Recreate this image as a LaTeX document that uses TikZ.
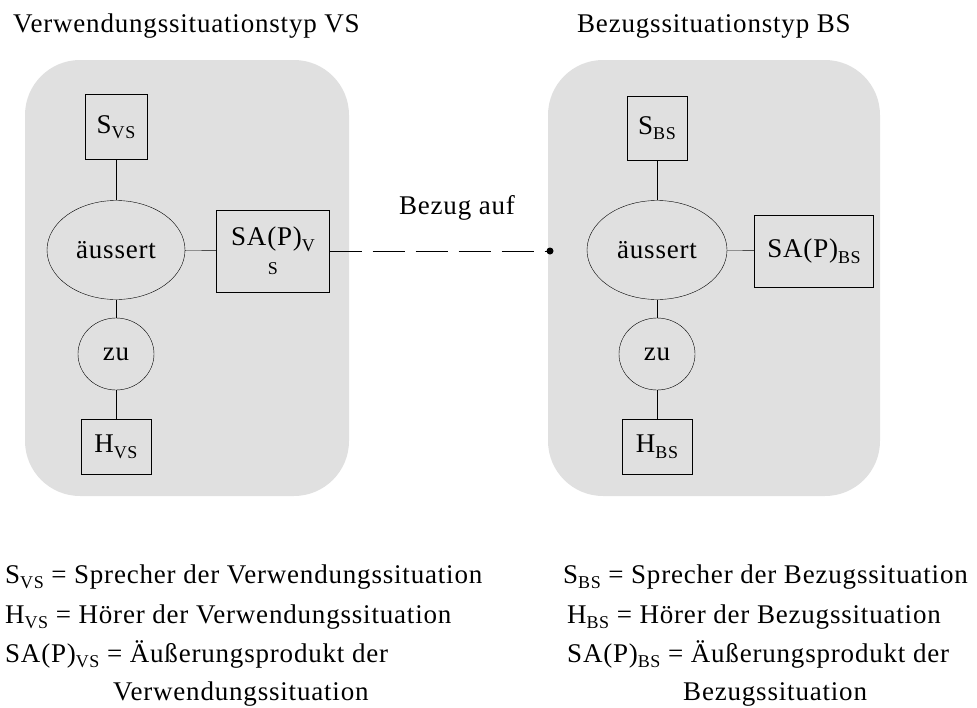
\documentclass[tikz,border=0pt]{standalone}
\usepackage{fontspec}
\setmainfont[LetterSpace=3]{Liberation Serif}
\usetikzlibrary{shapes.geometric}
\definecolor{boxgrey}{RGB}{224,224,224}
\newcommand{\idx}[1]{\raisebox{-0.45ex}{\fontsize{18}{18}\selectfont #1}}
\tikzset{
  sitbox/.style={fill=boxgrey, draw=none, rounded corners=55pt},
  rbox/.style={draw, rectangle, inner sep=0pt, fill=boxgrey},
  ebox/.style={draw, ellipse, inner sep=0pt, fill=boxgrey},
  txt/.style={inner sep=0pt, font=\fontsize{27}{27}\selectfont},
}

\begin{document}
\begin{tikzpicture}[x=1pt, y=-1pt, font=\fontsize{27}{27}\selectfont]
			%%%%% START %%%%%
			\useasboundingbox (0, 0) rectangle (977, 707);
			
			\node[txt, anchor=west] (tVS) at (13, 26) {Verwendungssituationstyp VS};
			\node[txt, anchor=west] (tBS) at (577, 26) {Bezugssituationstyp BS};
			
			\draw[sitbox] (25, 60) rectangle (349, 496);
			\draw[sitbox] (548, 60) rectangle (880, 496);
			
			% Verwendungssituation
			\node[rbox, minimum width=62, minimum height=65] (sVS) at (116, 127) {S\idx{VS}};
			\node[ebox, minimum width=138, minimum height=99] (aeVS) at (116, 250) {äussert};
			\node[rbox, minimum width=113, minimum height=82, align=center] (saVS) at (273, 251) {SA(P)\idx{V}\\[-4pt]\idx{S}};
			\node[ebox, minimum width=76, minimum height=72] (zuVS) at (116, 354) {zu};
			\node[rbox, minimum width=70, minimum height=55] (hVS) at (116, 447) {H\idx{VS}};
			
			\draw (sVS) -- (aeVS);
			\draw (aeVS) -- (zuVS);
			\draw (zuVS) -- (hVS);
			\draw (aeVS) -- (saVS);
			
			% Bezugssituation
			\node[rbox, minimum width=60, minimum height=64] (sBS) at (657, 128) {S\idx{BS}};
			\node[ebox, minimum width=140, minimum height=99] (aeBS) at (657, 250) {äussert};
			\node[rbox, minimum width=119, minimum height=72] (saBS) at (814, 251) {SA(P)\idx{BS}};
			\node[ebox, minimum width=76, minimum height=72] (zuBS) at (657, 354) {zu};
			\node[rbox, minimum width=70, minimum height=55] (hBS) at (657, 447) {H\idx{BS}};
			
			\draw (sBS) -- (aeBS);
			\draw (aeBS) -- (zuBS);
			\draw (zuBS) -- (hBS);
			\draw (aeBS) -- (saBS);
			
			% Bezug
			\coordinate (bzEnd) at (550, 251);
			\draw[dash pattern=on 32pt off 11pt] (saVS.east) -- (bzEnd);
			\fill (bzEnd) circle (3.5);
			\node[txt] (bezug) at (457, 208) {Bezug auf};
			
			% Legende
			\node[txt, anchor=base west] (l1) at (5, 583) {S\idx{VS} = Sprecher der Verwendungssituation};
			\node[txt, anchor=base west] (l2) at (5, 623) {H\idx{VS} = Hörer der Verwendungssituation};
			\node[txt, anchor=base west] (l3) at (5, 662) {SA(P)\idx{VS} = Äußerungsprodukt der};
			\node[txt, anchor=base west] (l4) at (113, 700) {Verwendungssituation};
			
			\node[txt, anchor=base west] (r1) at (563, 583) {S\idx{BS} = Sprecher der Bezugssituation};
			\node[txt, anchor=base west] (r2) at (567, 623) {H\idx{BS} = Hörer der Bezugssituation};
			\node[txt, anchor=base west] (r3) at (567, 662) {SA(P)\idx{BS} = Äußerungsprodukt der};
			\node[txt, anchor=base west] (r4) at (683, 700) {Bezugssituation};
			%%%%% END %%%%%
\end{tikzpicture}
\end{document}
